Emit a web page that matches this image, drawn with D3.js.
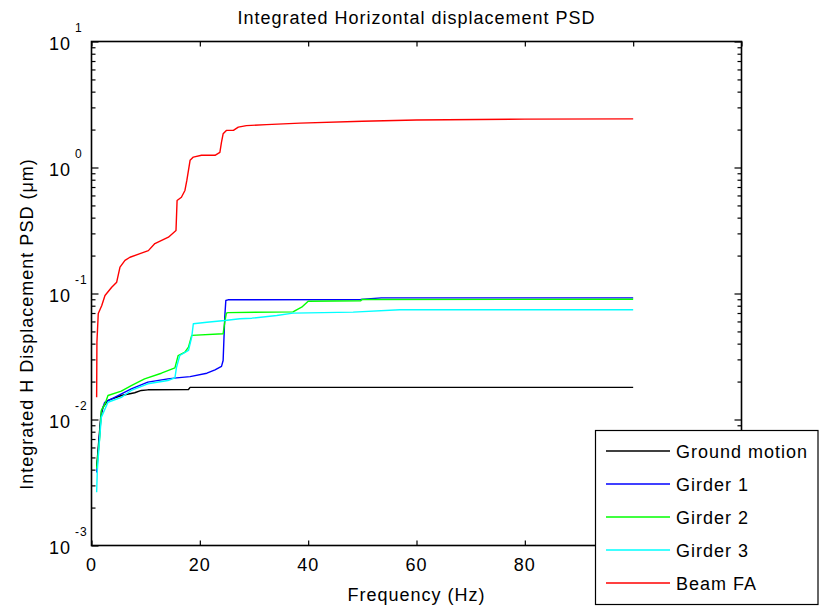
<!DOCTYPE html>
<html>
<head>
<meta charset="utf-8">
<script src="https://cdn.jsdelivr.net/npm/d3@7"></script>
<style>
    body { margin: 0; background: #fff; }
    svg { display: block; font-family: "Liberation Sans", Arial, sans-serif; }
    .lbl { font-size: 18px; letter-spacing: 1px; fill: #000; }
</style>
</head>
<body>
<svg id="chart" width="819" height="606"></svg>
<script>
"use strict"

// frequency (Hz), integrated PSD (um)
const groundMotion = [[0.95,0.0042],[1.7,0.0104],[2.12,0.0125],[3.04,0.0142],[5.5,0.0155],[7.97,0.0163],
    [9.19,0.0170],[10.4,0.0172],[17.9,0.0173],[18.2,0.0180],[100,0.0180]];
const girder1 = [[0.95,0.0038],[1.81,0.0114],[2.44,0.0137],[4.28,0.0150],[7.34,0.0175],[10.4,0.0198],
    [14.1,0.0210],[15.7,0.0214],[18.2,0.0219],[21.3,0.0233],[22.8,0.0248],[24.0,0.0264],[24.3,0.0294],
    [24.6,0.0649],[24.8,0.0880],[25.2,0.0891],[49.7,0.0896],[53.5,0.0924],[100,0.0924]];
const girder2 = [[0.95,0.0041],[1.5,0.0071],[1.81,0.0118],[2.49,0.0133],[3.04,0.0155],[5.5,0.0168],
    [7.34,0.0186],[9.8,0.0210],[12.9,0.0233],[15.4,0.0257],[16.0,0.0322],[17.25,0.0342],[17.9,0.0375],
    [18.5,0.0465],[24.3,0.0479],[24.6,0.0592],[24.9,0.0698],[25.2,0.0705],[37.2,0.0715],[38.2,0.0756],
    [38.8,0.0778],[40.0,0.0869],[49.7,0.0875],[49.9,0.0896],[100,0.0901]];
const girder3 = [[0.95,0.00265],[1.07,0.0039],[1.44,0.0065],[1.81,0.0104],[3.04,0.0137],[5.5,0.0150],
    [7.34,0.0170],[10.4,0.0192],[14.1,0.0204],[15.4,0.0214],[15.7,0.0260],[16.3,0.0322],[17.9,0.0353],
    [18.5,0.0450],[18.8,0.0575],[21.3,0.0592],[24.6,0.0610],[27.4,0.0630],[29.6,0.0637],[34.2,0.0669],
    [37.2,0.0698],[48.3,0.0711],[56.9,0.0743],[100,0.0743]];
const beamFA = [[0.95,0.015],[1.0,0.041],[1.25,0.0694],[1.88,0.080],[2.49,0.0964],[3.73,0.112],[4.65,0.123],
    [5.26,0.162],[6.18,0.183],[7.1,0.194],[8.95,0.207],[10.5,0.219],[11.7,0.249],[14.2,0.280],[15.6,0.316],
    [15.8,0.547],[16.6,0.581],[17.25,0.657],[17.6,0.789],[18.2,1.14],[18.8,1.21],[20.3,1.25],[22.8,1.25],
    [23.7,1.32],[24.0,1.59],[24.3,1.85],[24.9,1.97],[26.2,1.97],[27.1,2.09],[28.6,2.15],[32.3,2.19],
    [38.5,2.25],[50,2.33],[60,2.38],[80,2.42],[100,2.43]];

const seriesNames = ["Ground motion", "Girder 1", "Girder 2", "Girder 3", "Beam FA"];
const seriesData = [groundMotion, girder1, girder2, girder3, beamFA];
const seriesColors = ["#000000", "#0000ff", "#00ff00", "#00ffff", "#ff0000"];

const freqTicks = [0, 20, 40, 60, 80, 100, 120];
const decadeTicks = [1e-3, 1e-2, 1e-1, 1e0, 1e1];
const decadeExp = ["-3", "-2", "-1", "0", "1"];

const plotLeft = 91.5, plotRight = 741.5, plotTop = 41.5, plotBottom = 545.5;
const legendLeft = 595.5;

const svg = d3.select("#chart");

const x = d3.scaleLinear().domain([0, 120]).range([plotLeft, plotRight]);
const y = d3.scaleLog().domain([1e-3, 1e1]).range([plotBottom, plotTop]);

const minorTicks = [];
decadeTicks.slice(0, -1).forEach(d => {
    for (let k = 2; k <= 9; k++) minorTicks.push(d * k);
});

function Ticks(axis, pos)
{
    const g = svg.append("g").attr("transform", pos).call(axis);
    g.select(".domain").remove();
    g.selectAll("line").attr("stroke", "#000").attr("stroke-width", 1.2);
    g.selectAll("text").remove();
    return g;
}

Ticks(d3.axisBottom(x).tickValues(freqTicks).tickSize(-5), `translate(0,${plotBottom})`);
Ticks(d3.axisTop(x).tickValues(freqTicks).tickSize(-5), `translate(0,${plotTop})`);
Ticks(d3.axisLeft(y).tickValues(decadeTicks).tickSize(-7), `translate(${plotLeft},0)`);
Ticks(d3.axisLeft(y).tickValues(minorTicks).tickSize(-4), `translate(${plotLeft},0)`);
Ticks(d3.axisRight(y).tickValues(decadeTicks).tickSize(-7), `translate(${plotRight},0)`);
Ticks(d3.axisRight(y).tickValues(minorTicks).tickSize(-4), `translate(${plotRight},0)`);

svg.append("rect")
    .attr("x", plotLeft).attr("y", plotTop)
    .attr("width", plotRight - plotLeft).attr("height", plotBottom - plotTop)
    .attr("fill", "none").attr("stroke", "#000").attr("stroke-width", 1.6);

// x tick labels (the ones under the legend box are hidden in the original)
svg.selectAll(".xlab")
    .data(freqTicks.filter(d => x(d) < legendLeft))
    .enter()
    .append("text")
        .attr("class", "lbl")
        .attr("x", d => x(d))
        .attr("y", plotBottom + 25)
        .attr("text-anchor", "middle")
        .text(d => d);

// y tick labels, 10 with exponent
svg.selectAll(".ylab")
    .data(decadeTicks)
    .enter()
    .append("text")
        .attr("class", "lbl")
        .attr("x", 71)
        .attr("y", d => y(d) + 8.5)
        .attr("text-anchor", "end")
        .text("10");

svg.selectAll(".yexp")
    .data(decadeTicks)
    .enter()
    .append("text")
        .attr("x", 75)
        .attr("y", d => y(d) - 10)
        .attr("font-size", "12px")
        .attr("letter-spacing", "1px")
        .text((_, i) => decadeExp[i]);

// series
const line = d3.line()
    .x(d => x(d[0]))
    .y(d => y(d[1]));

svg.selectAll(".series")
    .data(seriesData)
    .enter()
    .append("path")
        .attr("d", d => line(d))
        .attr("fill", "none")
        .attr("stroke", (_, i) => seriesColors[i])
        .attr("stroke-width", 1.4)
        .attr("stroke-linejoin", "round");

// titles
svg.append("text")
    .attr("class", "lbl")
    .attr("x", (plotLeft + plotRight) / 2)
    .attr("y", 24)
    .attr("text-anchor", "middle")
    .text("Integrated Horizontal displacement PSD");

svg.append("text")
    .attr("class", "lbl")
    .attr("x", (plotLeft + plotRight) / 2)
    .attr("y", 601)
    .attr("text-anchor", "middle")
    .text("Frequency (Hz)");

svg.append("text")
    .attr("class", "lbl")
    .attr("transform", "translate(33,324) rotate(-90)")
    .attr("text-anchor", "middle")
    .attr("letter-spacing", "1.3px")
    .text("Integrated H Displacement PSD (\u03bcm)");

// legend
const legend = svg.append("g");
legend.append("rect")
    .attr("x", legendLeft).attr("y", 430.5)
    .attr("width", 222.5).attr("height", 174)
    .attr("fill", "#fff").attr("stroke", "#000").attr("stroke-width", 1.2);

const rowY = d3.scalePoint().domain(seriesNames).range([451, 583]);

legend.selectAll(".leg-line")
    .data(seriesNames)
    .enter()
    .append("line")
        .attr("x1", 606).attr("x2", 670)
        .attr("y1", d => rowY(d)).attr("y2", d => rowY(d))
        .attr("stroke", (_, i) => seriesColors[i])
        .attr("stroke-width", 1.4);

legend.selectAll(".leg-text")
    .data(seriesNames)
    .enter()
    .append("text")
        .attr("class", "lbl")
        .attr("x", 676)
        .attr("y", d => rowY(d) + 6.5)
        .text(d => d);
</script>
</body>
</html>
